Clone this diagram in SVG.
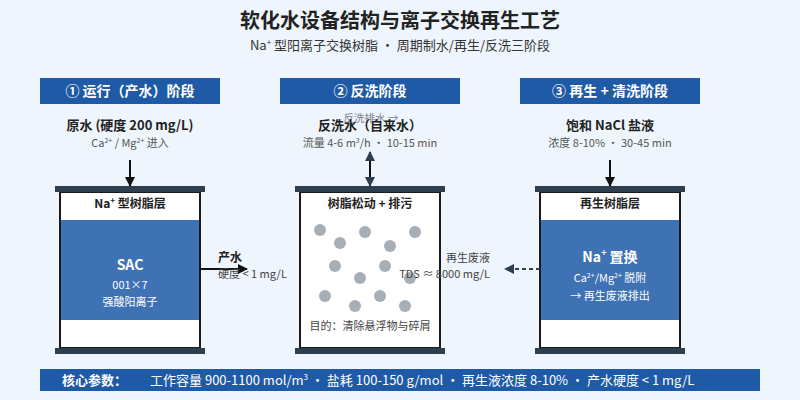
<svg xmlns="http://www.w3.org/2000/svg" width="800" height="400" viewBox="0 0 800 400">
<defs>
<style>
text{font-family:"Noto Sans CJK SC","Noto Sans",sans-serif;}
.title{font-size:20px;font-weight:700;fill:#222;text-anchor:middle;}
.sub{font-size:13px;fill:#333;text-anchor:middle;}
.hdr{fill:#1F5AA6;}
.hdrt{font-size:14px;font-weight:700;fill:#fff;text-anchor:middle;}
.in{font-size:13px;font-weight:700;fill:#222;text-anchor:middle;}
.ins{font-size:11px;fill:#555;text-anchor:middle;}
.cap{fill:#2C3E50;}
.body{fill:#fff;stroke:#1a1a1a;stroke-width:2;}
.resin{fill:#3E72B4;}
.vt{font-size:12px;font-weight:700;fill:#222;text-anchor:middle;}
.rt{font-size:14px;font-weight:700;fill:#fff;text-anchor:middle;}
.rs{font-size:11px;fill:#fff;text-anchor:middle;}
.dot{fill:#A8AEB6;}
.note{font-size:11px;fill:#444;}
.ln{stroke:#111;stroke-width:2;fill:none;}
.dash{stroke:#2C3E50;stroke-width:2;stroke-dasharray:4 3;fill:none;}
</style>
<marker id="ah" viewBox="0 0 10 10" refX="9" refY="5" markerWidth="10" markerHeight="10" markerUnits="userSpaceOnUse" orient="auto-start-reverse"><path d="M0,0 L10,5 L0,10 z" fill="#111"/></marker>
<marker id="ahn" viewBox="0 0 10 10" refX="9" refY="5" markerWidth="10" markerHeight="10" markerUnits="userSpaceOnUse" orient="auto-start-reverse"><path d="M0,0 L10,5 L0,10 z" fill="#2C3E50"/></marker>
</defs>
<rect width="800" height="400" fill="#EEF5FC"/>
<text class="title" x="400" y="28">软化水设备结构与离子交换再生工艺</text>
<text class="sub" x="400" y="50">Na<tspan font-size="8" dy="-5">+</tspan><tspan dy="5"> 型阳离子交换树脂 · 周期制水/再生/反洗三阶段</tspan></text>

<g id="stage1">
<rect class="hdr" x="40" y="78" width="180" height="26"/>
<text class="hdrt" x="130" y="96">① 运行（产水）阶段</text>
<text class="in" x="130" y="130">原水 (硬度 200 mg/L)</text>
<text class="ins" x="130" y="147">Ca<tspan font-size="7" dy="-4">2+</tspan><tspan dy="4"> / Mg</tspan><tspan font-size="7" dy="-4">2+</tspan><tspan dy="4"> 进入</tspan></text>
<rect class="body" x="60" y="192" width="140" height="156"/>
<rect class="cap" x="55" y="186" width="150" height="6"/>
<rect class="cap" x="55" y="348" width="150" height="6"/>
<text class="vt" x="130" y="208">Na<tspan font-size="8" dy="-5">+</tspan><tspan dy="5"> 型树脂层</tspan></text>
<rect class="resin" x="61" y="220" width="138" height="100"/>
<text class="rt" x="130" y="270">SAC</text>
<text class="rs" x="130" y="289">001×7</text>
<text class="rs" x="130" y="306">强酸阳离子</text>
</g>

<g id="stage2">
<rect class="hdr" x="280" y="78" width="180" height="26"/>
<text class="hdrt" x="370" y="96">② 反洗阶段</text>
<text x="371" y="122" font-size="10.5" fill="#7A8290" text-anchor="middle">反洗排水 →</text>
<text class="in" x="370" y="130">反洗水（自来水）</text>
<text class="ins" x="370" y="147">流量 4-6 m<tspan font-size="7" dy="-4">3</tspan><tspan dy="4">/h · 10-15 min</tspan></text>
<rect class="body" x="300" y="192" width="140" height="156"/>
<rect class="cap" x="295" y="186" width="150" height="6"/>
<rect class="cap" x="295" y="348" width="150" height="6"/>
<text class="vt" x="370" y="208">树脂松动 + 排污</text>
<circle class="dot" cx="320" cy="230" r="6"/>
<circle class="dot" cx="340" cy="243" r="6"/>
<circle class="dot" cx="365" cy="232" r="6"/>
<circle class="dot" cx="415" cy="232" r="6"/>
<circle class="dot" cx="390" cy="246" r="6"/>
<circle class="dot" cx="335" cy="266" r="6"/>
<circle class="dot" cx="385" cy="266" r="6"/>
<circle class="dot" cx="360" cy="278" r="6"/>
<circle class="dot" cx="410" cy="278" r="6"/>
<circle class="dot" cx="325" cy="296" r="6"/>
<circle class="dot" cx="380" cy="296" r="6"/>
<circle class="dot" cx="355" cy="306" r="6"/>
<circle class="dot" cx="405" cy="306" r="6"/>
<text class="note" x="370" y="330" text-anchor="middle">目的：清除悬浮物与碎屑</text>
</g>

<g id="stage3">
<rect class="hdr" x="520" y="78" width="180" height="26"/>
<text class="hdrt" x="610" y="96">③ 再生 + 清洗阶段</text>
<text class="in" x="610" y="130">饱和 NaCl 盐液</text>
<text class="ins" x="610" y="147">浓度 8-10% · 30-45 min</text>
<rect class="body" x="540" y="192" width="140" height="156"/>
<rect class="cap" x="535" y="186" width="150" height="6"/>
<rect class="cap" x="535" y="348" width="150" height="6"/>
<text class="vt" x="610" y="208">再生树脂层</text>
<rect class="resin" x="541" y="220" width="138" height="100"/>
<text class="rt" x="610" y="262">Na<tspan font-size="9" dy="-6">+</tspan><tspan dy="6"> 置换</tspan></text>
<text class="rs" x="610" y="282">Ca<tspan font-size="7" dy="-4">2+</tspan><tspan dy="4">/Mg</tspan><tspan font-size="7" dy="-4">2+</tspan><tspan dy="4"> 脱附</tspan></text>
<text class="rs" x="610" y="300">→ 再生废液排出</text>
</g>

<g id="connectors">
<line class="ln" x1="130" y1="160" x2="130" y2="186" marker-end="url(#ah)"/>
<line class="ln" x1="610" y1="160" x2="610" y2="186" marker-end="url(#ah)"/>
<line x1="370" y1="152" x2="370" y2="186" stroke="#111" stroke-width="2" marker-start="url(#ahn)" marker-end="url(#ahn)"/>
<line class="ln" x1="200" y1="269" x2="247" y2="269" marker-end="url(#ah)"/>
<text x="218" y="262" font-size="12" font-weight="700" fill="#222">产水</text>
<text class="note" x="218" y="278" fill="#555">硬度 &lt; 1 mg/L</text>
<line class="dash" x1="540" y1="269" x2="505" y2="269" marker-end="url(#ahn)"/>
<text class="note" x="490" y="262" text-anchor="end">再生废液</text>
<text class="note" x="490" y="278" text-anchor="end">TDS ≈ 8000 mg/L</text>
</g>

<g id="params">
<rect x="40" y="369" width="720" height="22" fill="#1F5AA6"/>
<text x="62" y="385" font-size="13" font-weight="700" fill="#fff">核心参数：</text>
<text x="150" y="385" font-size="13" fill="#fff">工作容量 900-1100 mol/m<tspan font-size="8" dy="-5">3</tspan><tspan dy="5"> · 盐耗 100-150 g/mol · 再生液浓度 8-10% · 产水硬度 &lt; 1 mg/L</tspan></text>
</g>
</svg>
